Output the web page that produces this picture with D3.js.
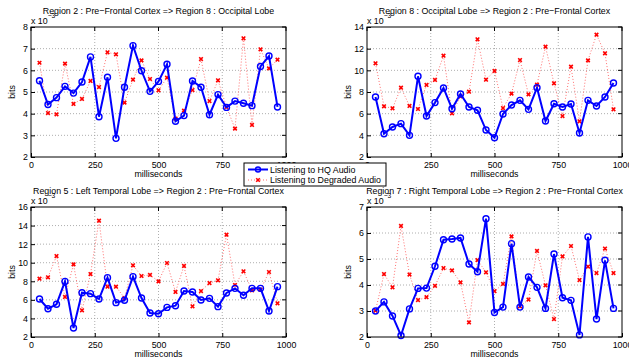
<!DOCTYPE html>
<html>
<head>
<meta charset="utf-8">
<script src="https://cdn.jsdelivr.net/npm/d3@7"></script>
<style>
  html, body { margin: 0; padding: 0; background: #fff; }
  svg { display: block; font-family: "Liberation Sans", Arial, sans-serif; }
</style>
</head>
<body>
<div id="chart"></div>
<script>
// time points (ms): 29 windows of 33.3 ms
const times = d3.range(1, 30).map(k => k * 1000 / 30);
const xTicks = [0, 250, 500, 750, 1000];

const titles = [
  'Region 2 : Pre\u2212Frontal Cortex => Region 8 : Occipital Lobe',
  'Region 8 : Occipital Lobe => Region 2 : Pre\u2212Frontal Cortex',
  'Region 5 : Left Temporal Lobe => Region 2 : Pre\u2212Frontal Cortex',
  'Region 7 : Right Temporal Lobe => Region 2 : Pre\u2212Frontal Cortex'
];
const seriesNames = ['Listening to HQ Audio', 'Listening to Degraded Audio'];

// values in units of 1e-3 bits
const hq1 = [5.52, 4.42, 4.74, 5.26, 4.95, 5.46, 6.62, 3.86, 5.68, 2.86, 5.22, 7.14, 5.98, 5.03, 5.49, 6.28, 3.65, 3.91, 5.51, 5.22, 3.95, 4.88, 4.29, 4.58, 4.48, 4.37, 6.18, 6.66, 4.31];
const deg1 = [6.35, 4.03, 3.97, 6.31, 4.45, 4.68, 5.51, 5.23, 6.83, 6.74, 4.51, 5.57, 6.46, 5.6, 5.08, 5.66, 3.77, 4.14, 5.09, 6.52, 4.58, 5.54, 4.31, 3.31, 7.48, 3.48, 6.97, 6.09, 6.49];

const hq2 = [7.54, 4.15, 4.77, 5.08, 4.0, 9.45, 5.78, 7.02, 8.37, 6.46, 7.82, 6.62, 6.31, 4.49, 3.78, 5.97, 6.8, 7.23, 6.4, 8.4, 5.32, 6.92, 6.62, 6.89, 4.22, 7.23, 6.71, 7.54, 8.83];
const deg2 = [10.65, 6.68, 6.49, 8.4, 6.71, 6.43, 8.65, 9.11, 11.35, 6.03, 7.6, 8.03, 12.86, 9.14, 9.94, 6.52, 7.85, 10.95, 7.78, 8.68, 12.18, 8.8, 5.78, 10.34, 5.29, 10.92, 13.29, 11.57, 6.4];

const hq3 = [6.09, 5.05, 5.52, 7.99, 2.97, 6.77, 6.67, 6.09, 8.39, 5.7, 5.95, 8.5, 6.2, 4.58, 4.51, 5.19, 5.37, 6.95, 6.85, 5.98, 6.16, 5.27, 6.74, 7.24, 6.49, 7.24, 7.24, 4.8, 7.42];
const deg3 = [8.28, 8.43, 10.72, 6.31, 9.82, 4.87, 8.78, 14.53, 7.42, 7.42, 6.2, 9.72, 8.57, 8.68, 7.99, 9.97, 6.85, 9.65, 5.3, 6.95, 7.81, 8.1, 13.02, 7.6, 9.07, 7.03, 7.1, 9.0, 5.63];

const hq4 = [3.0, 3.35, 2.81, 2.06, 3.08, 3.87, 3.88, 4.72, 5.74, 5.77, 5.81, 4.81, 4.51, 6.55, 2.94, 3.15, 5.59, 3.15, 4.31, 3.91, 3.1, 5.19, 3.51, 3.41, 2.08, 5.85, 2.69, 4.95, 3.1];
const deg4 = [3.01, 4.42, 3.91, 6.27, 4.4, 3.42, 3.53, 3.97, 4.65, 4.56, 4.1, 2.56, 4.96, 4.49, 3.76, 4.04, 5.87, 3.18, 3.44, 5.31, 3.99, 2.69, 5.1, 5.5, 4.19, 4.71, 4.46, 5.4, 4.46];

const yTicks1 = [2, 3, 4, 5, 6, 7, 8];
const yTicks2 = [2, 4, 6, 8, 10, 12, 14];
const yTicks3 = [2, 4, 6, 8, 10, 12, 14, 16];
const yTicks4 = [2, 3, 4, 5, 6, 7];

const W = 629, H = 360;
const FS = '9.3px';   // font size
const SQ = 0.95;      // slight horizontal squeeze, the original font is a bit narrower

const svg = d3.select('#chart').append('svg').attr('width', W).attr('height', H);

// squeeze text horizontally around its own x position
function squeeze(sel) {
  sel.each(function() {
    const t = d3.select(this);
    const x = +(t.attr('x') || 0);
    t.attr('x', x / SQ).attr('transform', `scale(${SQ},1)`);
  });
  return sel;
}

const panels = [
  { left: 31, top: 27, hq: hq1, deg: deg1, ticks: yTicks1, title: titles[0] },
  { left: 367, top: 27, hq: hq2, deg: deg2, ticks: yTicks2, title: titles[1] },
  { left: 31, top: 207, hq: hq3, deg: deg3, ticks: yTicks3, title: titles[2] },
  { left: 367, top: 207, hq: hq4, deg: deg4, ticks: yTicks4, title: titles[3] }
];
const pw = 255, ph = 130;

function drawPanel(p) {
  const g = svg.append('g').attr('transform', `translate(${p.left},${p.top})`);
  const x = d3.scaleLinear().domain([0, 1000]).range([0, pw]);
  const y = d3.scaleLinear().domain(d3.extent(p.ticks)).range([ph, 0]);

  // grid
  g.append('g').selectAll('line').data(xTicks.slice(1, -1)).join('line')
    .attr('x1', d => x(d)).attr('x2', d => x(d)).attr('y1', 0).attr('y2', ph)
    .attr('stroke', '#999').attr('stroke-width', 0.8).attr('stroke-dasharray', '1,2');
  g.append('g').selectAll('line').data(p.ticks.slice(1, -1)).join('line')
    .attr('y1', d => y(d)).attr('y2', d => y(d)).attr('x1', 0).attr('x2', pw)
    .attr('stroke', '#999').attr('stroke-width', 0.8).attr('stroke-dasharray', '1,2');

  // axes
  const xa = g.append('g').attr('transform', `translate(0,${ph})`)
    .call(d3.axisBottom(x).tickValues(xTicks).tickSize(-4).tickPadding(4).tickFormat(d3.format('d')));
  const ya = g.append('g')
    .call(d3.axisLeft(y).tickValues(p.ticks).tickSize(-4).tickPadding(3).tickFormat(d3.format('d')));
  [xa, ya].forEach(a => {
    a.select('.domain').remove();
    a.selectAll('line').attr('stroke', '#000');
    a.selectAll('text').attr('fill', '#000').attr('font-size', FS)
      .attr('font-family', '"Liberation Sans", Arial, sans-serif');
    squeeze(a.selectAll('text'));
  });
  // top/right ticks
  g.append('g').selectAll('line').data(xTicks).join('line')
    .attr('x1', d => x(d)).attr('x2', d => x(d)).attr('y1', 0).attr('y2', 4).attr('stroke', '#000');
  g.append('g').selectAll('line').data(p.ticks).join('line')
    .attr('y1', d => y(d)).attr('y2', d => y(d)).attr('x1', pw).attr('x2', pw - 4).attr('stroke', '#000');

  // degraded series: light red dotted line with red x markers
  const line = d3.line().x((d, i) => x(times[i])).y(d => y(d));
  g.append('path').datum(p.deg).attr('d', line)
    .attr('fill', 'none').attr('stroke', '#ff7070').attr('stroke-width', 1)
    .attr('stroke-dasharray', '1,2');
  g.append('g').selectAll('path').data(p.deg).join('path')
    .attr('transform', (d, i) => `translate(${x(times[i])},${y(d)})`)
    .attr('d', 'M-1.8,-1.8L1.8,1.8M-1.8,1.8L1.8,-1.8')
    .attr('stroke', '#f00').attr('stroke-width', 1.6);

  // HQ series: blue solid line with open circles
  g.append('path').datum(p.hq).attr('d', line)
    .attr('fill', 'none').attr('stroke', '#0000ff').attr('stroke-width', 2);
  g.append('g').selectAll('circle').data(p.hq).join('circle')
    .attr('cx', (d, i) => x(times[i])).attr('cy', d => y(d)).attr('r', 3)
    .attr('fill', 'none').attr('stroke', '#0000ff').attr('stroke-width', 1.4);

  // box
  g.append('rect').attr('width', pw).attr('height', ph)
    .attr('fill', 'none').attr('stroke', '#000').attr('stroke-width', 1);

  // labels
  squeeze(g.append('text').attr('x', pw / 2).attr('y', -13.5).attr('text-anchor', 'middle')
    .attr('font-size', FS).text(p.title));
  const ex = g.append('text').attr('x', 0).attr('y', -3).attr('font-size', FS);
  ex.append('tspan').text('x 10');
  ex.append('tspan').attr('dy', -6).attr('font-size', '7px').text('\u22123');
  squeeze(ex);
  squeeze(g.append('text').attr('x', pw / 2).attr('y', ph + 20).attr('text-anchor', 'middle')
    .attr('font-size', FS).text('milliseconds'));
  g.append('text').attr('transform', `translate(-16,${ph / 2}) rotate(-90) scale(${SQ},1)`)
    .attr('text-anchor', 'middle').attr('font-size', FS).text('bits');
}

panels.forEach(drawPanel);

// legend
const lg = svg.append('g').attr('transform', 'translate(244,163)');
lg.append('rect').attr('width', 142).attr('height', 23)
  .attr('fill', '#fff').attr('stroke', '#000').attr('stroke-width', 1);
lg.append('line').attr('x1', 4).attr('x2', 24).attr('y1', 6.5).attr('y2', 6.5)
  .attr('stroke', '#0000ff').attr('stroke-width', 2);
lg.append('circle').attr('cx', 14).attr('cy', 6.5).attr('r', 2.5)
  .attr('fill', 'none').attr('stroke', '#0000ff').attr('stroke-width', 1.4);
lg.append('line').attr('x1', 4).attr('x2', 24).attr('y1', 17).attr('y2', 17)
  .attr('stroke', '#ff7070').attr('stroke-dasharray', '1,2');
lg.append('path').attr('transform', 'translate(14,17)')
  .attr('d', 'M-1.8,-1.8L1.8,1.8M-1.8,1.8L1.8,-1.8')
  .attr('stroke', '#f00').attr('stroke-width', 1.6);
squeeze(lg.selectAll('text.lab').data(seriesNames).join('text').attr('class', 'lab')
  .attr('x', 26).attr('y', (d, i) => 10 + i * 10.5)
  .attr('font-size', FS).text(d => d));
</script>
</body>
</html>
